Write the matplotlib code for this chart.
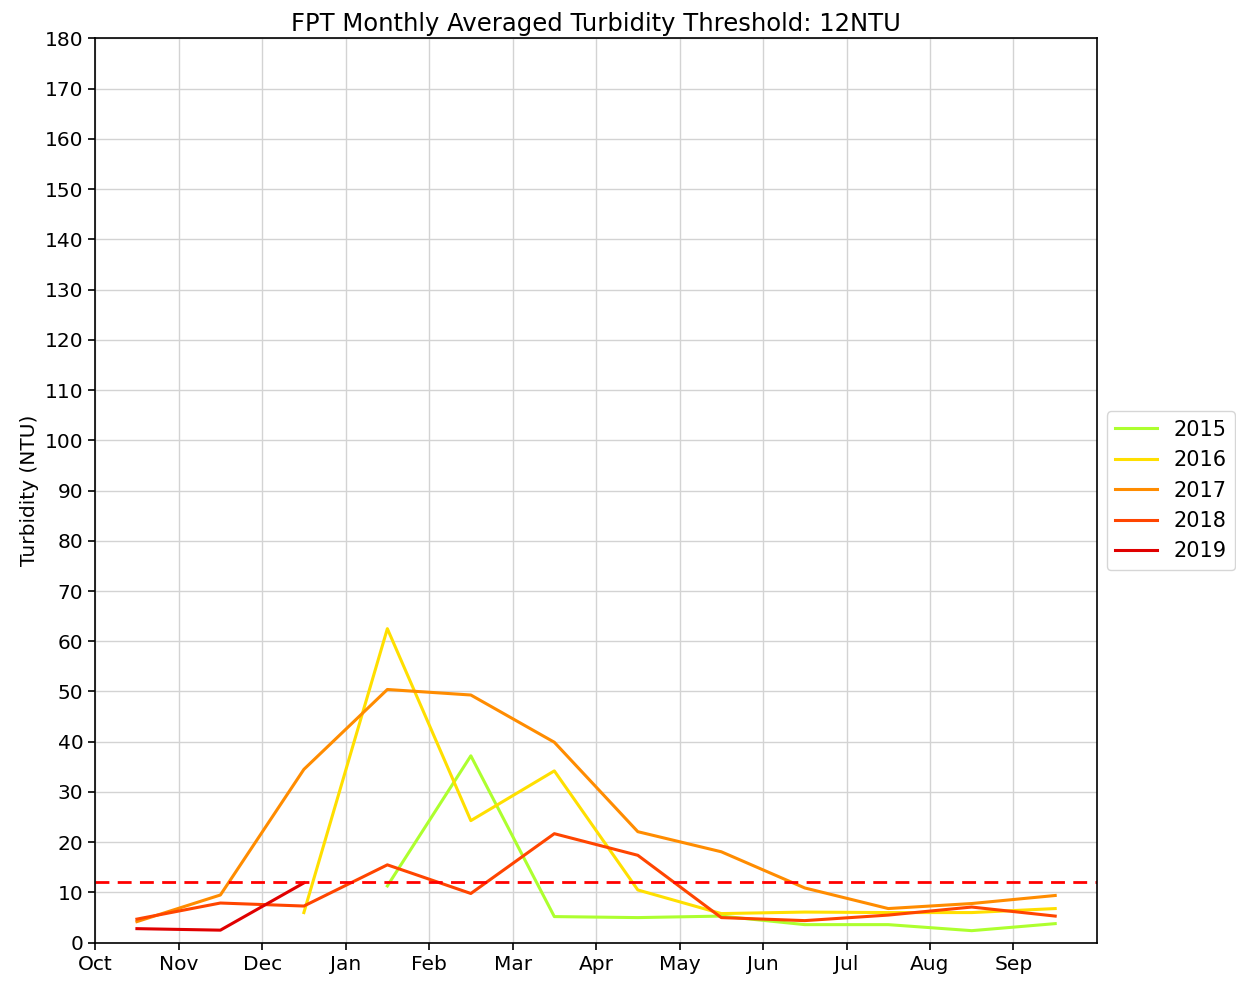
import matplotlib
matplotlib.use("Agg")
import matplotlib.pyplot as plt
import numpy as np

months = ['Oct', 'Nov', 'Dec', 'Jan', 'Feb', 'Mar', 'Apr', 'May', 'Jun', 'Jul', 'Aug', 'Sep']
threshold = 12

# monthly averages, water year Oct..Sep (None = no data)
turb_2015 = [None, None, None, 11.3, 37.2, 5.2, 5.0, 5.3, 3.6, 3.6, 2.4, 3.8]
turb_2016 = [None, None, 6.0, 62.5, 24.3, 34.2, 10.5, 5.8, 6.1, 6.0, 6.0, 6.8]
turb_2017 = [4.2, 9.5, 34.5, 50.4, 49.3, 39.9, 22.1, 18.1, 10.9, 6.8, 7.8, 9.4]
turb_2018 = [4.7, 7.9, 7.3, 15.5, 9.8, 21.7, 17.4, 5.0, 4.4, 5.5, 7.1, 5.3]
turb_2019 = [2.8, 2.5, 11.9, None, None, None, None, None, None, None, None, None]

series = [('2015', turb_2015, '#adff2f'),
          ('2016', turb_2016, '#ffdf00'),
          ('2017', turb_2017, '#ff8c00'),
          ('2018', turb_2018, '#ff4500'),
          ('2019', turb_2019, '#e00000')]

fig = plt.figure(figsize=(12.36, 9.82), dpi=100)
ax = fig.add_axes([0.077, 0.04, 0.8105, 0.921])

x = np.arange(len(months)) + 0.5
for name, vals, c in series:
    y = np.array([np.nan if v is None else v for v in vals], dtype=float)
    ax.plot(x, y, color=c, lw=2.2, label=name)

ax.axhline(threshold, color='red', ls='--', lw=2, dashes=(5, 3))

ax.set_xlim(0, 12)
ax.set_ylim(0, 180)
ax.set_xticks(np.arange(12))
ax.set_xticklabels(months)
ax.set_yticks(np.arange(0, 181, 10))
ax.tick_params(labelsize=14.5, width=1.2, length=5)
for s in ax.spines.values():
    s.set_linewidth(1.2)
ax.grid(True, color='#d3d3d3', lw=1)
ax.set_axisbelow(True)
ax.set_ylabel('Turbidity (NTU)', fontsize=14.5)
ax.set_title('FPT Monthly Averaged Turbidity Threshold: %dNTU' % threshold, fontsize=17.5, pad=5)
ax.legend(loc='center left', bbox_to_anchor=(1.01, 0.5), borderaxespad=0,
          fontsize=15, labelspacing=0.5)

fig.savefig('out.png', dpi=100)
